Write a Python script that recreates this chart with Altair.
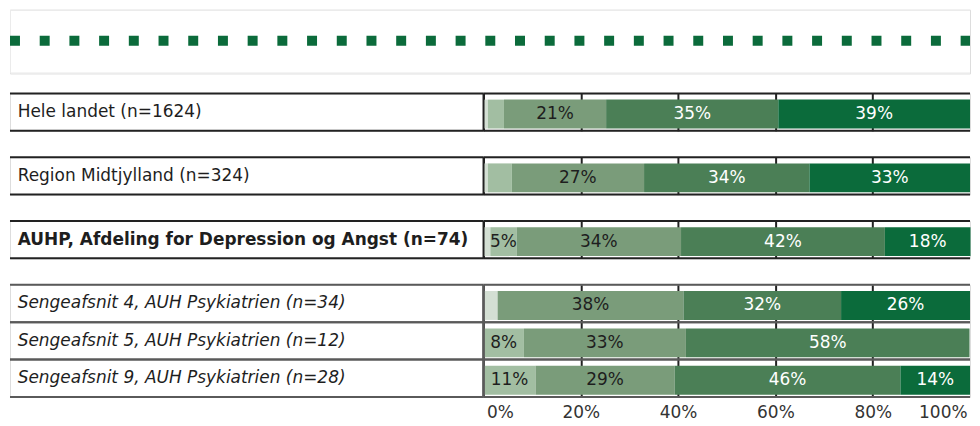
import altair as alt
import pandas as pd

# ---------------- data ----------------
rows = [
    "Hele landet (n=1624)",
    "Region Midtjylland (n=324)",
    "AUHP, Afdeling for Depression og Angst (n=74)",
    "Sengeafsnit 4, AUH Psykiatrien (n=34)",
    "Sengeafsnit 5, AUH Psykiatrien (n=12)",
    "Sengeafsnit 9, AUH Psykiatrien (n=28)",
]
row_level = ["land", "region", "afdeling", "afsnit", "afsnit", "afsnit"]
row_group = [0, 1, 2, 3, 3, 3]

categories = ["Svar 1", "Svar 2", "Svar 3", "Svar 4", "Svar 5"]
svar1 = [0.9, 0.9, 1.4, 2.9, 0.0, 0.0]
svar2 = [3.3, 4.9, 5.4, 0.0, 8.3, 10.7]
svar3 = [21.0, 27.2, 33.8, 38.2, 33.3, 28.6]
svar4 = [35.4, 34.0, 41.9, 32.4, 58.3, 46.4]
svar5 = [39.4, 33.0, 17.6, 26.5, 0.0, 14.3]

tick_values = [0, 20, 40, 60, 80, 100]

# ---------------- styles ----------------
colors = ["#d3dfd3", "#a2bea2", "#7a9c7a", "#4b7f56", "#0b6b3b"]
FONT = "DejaVu Sans"
STEP = 37.5
LABEL_W = 475
BAR_W = 488
TOTAL_W = LABEL_W + BAR_W
LEG_H = 64

records = []
series = [svar1, svar2, svar3, svar4, svar5]
for i, r in enumerate(rows):
    start = 0.0
    for k, c in enumerate(categories):
        v = series[k][i]
        records.append(dict(
            row=r, group=row_group[i], cat=c, k=k, value=v,
            x0=start, x1=start + v, mid=start + v / 2,
            label=(f"{round(v)}%" if v >= 5.2 else ""),
        ))
        start += v
bars_df = pd.DataFrame(records)
rows_df = pd.DataFrame(dict(row=rows, group=row_group, level=row_level))

xscale = alt.Scale(domain=[0, 100], nice=False, zero=True)
cscale = alt.Scale(domain=categories, range=colors)


def group_panel(g, last):
    grows = [r for r, gg in zip(rows, row_group) if gg == g]
    glevel = [l for l, gg in zip(row_level, row_group) if gg == g][0]
    h = STEP * len(grows)
    line_color = "#222222" if glevel != "afsnit" else "#5a5a5a"
    yscale = alt.Scale(domain=grows, paddingInner=0, paddingOuter=0)
    rdf = rows_df[rows_df.group == g]
    bdf = bars_df[bars_df.group == g]
    y = alt.Y("row:N", scale=yscale, axis=None, sort=grows)

    def edge_rules(data):
        top = alt.Chart(data).mark_rule(strokeWidth=2, color=line_color).encode(
            y=alt.Y("row:N", scale=yscale, axis=None, sort=grows, bandPosition=0))
        bot = alt.Chart(data).mark_rule(strokeWidth=2, color=line_color).encode(
            y=alt.Y("row:N", scale=yscale, axis=None, sort=grows, bandPosition=1))
        return [top, bot]

    weight = "bold" if glevel == "afdeling" else "normal"
    style = "italic" if glevel == "afsnit" else "normal"
    text = alt.Chart(rdf).mark_text(
        align="left", baseline="middle", fontSize=17, color="#1e1e1e",
        font=FONT, fontWeight=weight, fontStyle=style,
    ).encode(x=alt.value(7.7), y=y, text="row:N")

    label_panel = alt.layer(*edge_rules(rdf), text).properties(
        width=LABEL_W, height=h)

    xaxis = alt.Axis(
        values=tick_values, grid=True, gridColor="#222222", gridWidth=2,
        gridOpacity=alt.condition("datum.value == 100", alt.value(0), alt.value(1)),
        domain=False, ticks=False, labels=last, title=None,
        labelExpr="datum.value + '%'", labelFlush=True, labelFlushOffset=-3,
        labelFontSize=17, labelColor="#333333", labelPadding=8, labelFont=FONT,
    )
    bars = alt.Chart(bdf).mark_bar(size=29, yOffset=2).encode(
        x=alt.X("x0:Q", scale=xscale, axis=xaxis),
        x2="x1:Q",
        y=y,
        color=alt.Color("cat:N", scale=cscale, legend=None),
    )
    labels = alt.Chart(bdf).mark_text(
        fontSize=17, font=FONT, baseline="middle", dy=2,
    ).encode(
        x=alt.X("mid:Q", scale=xscale),
        y=y,
        text="label:N",
        color=alt.condition(alt.datum.k >= 3, alt.value("#ffffff"), alt.value("#1e1e1e")),
    )
    vline = alt.Chart(rdf).mark_rule(strokeWidth=2, color=line_color).encode(
        x=alt.datum(0))
    bar_panel = alt.layer(bars, labels, *edge_rules(rdf), vline).properties(
        width=BAR_W, height=h)

    return alt.hconcat(label_panel, bar_panel, spacing=0, bounds="flush")


leg_base = alt.Chart(pd.DataFrame({"a": [0]}))
dashes = leg_base.mark_rule(
    color="#0b6b3b", strokeWidth=10, strokeDash=[10, 19.8], clip=True,
).encode(x=alt.value(0), x2=alt.value(TOTAL_W), y=alt.value(31.3))
box_top = leg_base.mark_rule(color="#ebebeb", strokeWidth=1, clip=True).encode(
    x=alt.value(0), x2=alt.value(TOTAL_W), y=alt.value(0.5))
box_bot = leg_base.mark_rule(color="#ebebeb", strokeWidth=1, clip=True).encode(
    x=alt.value(0), x2=alt.value(TOTAL_W), y=alt.value(LEG_H - 0.5))
box_left = leg_base.mark_rule(color="#ebebeb", strokeWidth=1, clip=True).encode(
    x=alt.value(0.5), y=alt.value(0), y2=alt.value(LEG_H))
legend = alt.layer(box_top, box_bot, box_left, dashes).properties(
    width=TOTAL_W, height=LEG_H)

panels = [group_panel(g, g == 3) for g in range(4)]
body = alt.vconcat(*panels, spacing=23)

chart = alt.vconcat(legend, body, spacing=17).properties(
    padding=0
).configure_view(stroke=None).configure(font=FONT)

chart.save("out.html", embed_options={"renderer": "svg", "actions": False})
